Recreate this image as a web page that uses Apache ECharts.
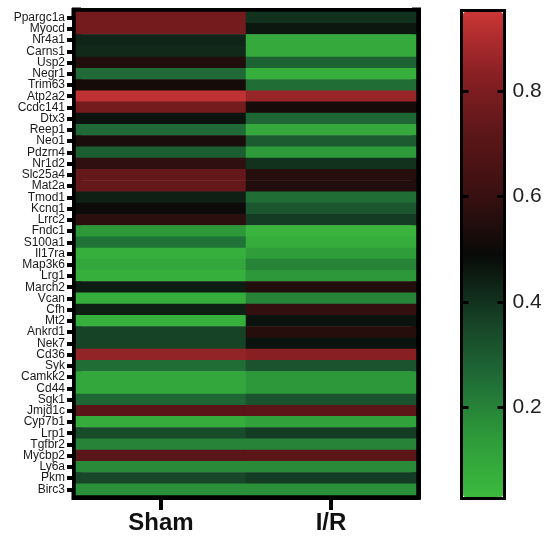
<!DOCTYPE html>
<html>
<head>
<meta charset="utf-8">
<script src="https://cdn.jsdelivr.net/npm/echarts@6/dist/echarts.min.js"></script>
<style>html,body{margin:0;padding:0;background:#fff}#chart{width:555px;height:541px}</style>
</head>
<body>
<div id="chart"></div>
<script>
const genes = ['Ppargc1a','Myocd','Nr4a1','Carns1','Usp2','Negr1','Trim63','Atp2a2','Ccdc141','Dtx3','Reep1','Neo1','Pdzrn4','Nr1d2','Slc25a4','Mat2a','Tmod1','Kcnq1','Lrrc2','Fndc1','S100a1','Il17ra','Map3k6','Lrg1','March2','Vcan','Cfh','Mt2','Ankrd1','Nek7','Cd36','Syk','Camkk2','Cd44','Sgk1','Jmjd1c','Cyp7b1','Lrp1','Tgfbr2','Mycbp2','Ly6a','Pkm','Birc3'];
const groups = ['Sham','I/R'];
const shamValues = [0.78,0.78,0.43,0.42,0.55,0.26,0.52,0.93,0.78,0.47,0.26,0.53,0.29,0.58,0.74,0.74,0.44,0.50,0.57,0.15,0.24,0.07,0.10,0.07,0.45,0.08,0.44,0.07,0.36,0.36,0.85,0.25,0.10,0.10,0.27,0.71,0.08,0.34,0.20,0.71,0.18,0.35,0.17];
const irValues = [0.40,0.46,0.09,0.09,0.28,0.07,0.25,0.86,0.52,0.27,0.09,0.30,0.14,0.40,0.56,0.55,0.25,0.31,0.38,0.05,0.08,0.13,0.20,0.15,0.55,0.20,0.59,0.47,0.56,0.47,0.83,0.32,0.15,0.15,0.32,0.72,0.12,0.38,0.20,0.72,0.18,0.38,0.17];
const colorbarTicks = [0.2, 0.4, 0.6, 0.8];
const scaleMin = 0.03, scaleMax = 0.95;
const scaleColors = ['#3dba3d','#2d9a3a','#1f6a36','#153d24','#080a08','#3a1011','#5c1618','#8a2024','#ca3636'];

const data = [];
genes.forEach((g, i) => {
  data.push([0, i, shamValues[i]]);
  data.push([1, i, irValues[i]]);
});

// colorbar geometry
const barTop = 12, barH = 485, barLeft = 463, barW = 40;
const k = (scaleMax - scaleMin) / barH;

const chart = echarts.init(document.getElementById('chart'), null, {renderer: 'canvas'});
const border = {show: true, lineStyle: {color: '#000', width: 9, cap: 'square'}};
const cbLine = {show: true, lineStyle: {color: '#000', width: 3, cap: 'square'}};
chart.setOption({
  backgroundColor: '#fff',
  animation: false,
  grid: [
    {left: 76, top: 12, width: 340, height: 483},
    {left: barLeft - 1.5, top: barTop - 1.5, width: barW + 3, height: barH + 3}
  ],
  xAxis: [
    {type: 'category', gridIndex: 0, data: groups, position: 'bottom',
     axisLine: border,
     axisTick: {show: true, alignWithLabel: true, length: 15, lineStyle: {color: '#000', width: 4}},
     axisLabel: {color: '#111', fontSize: 24, fontWeight: 'bold', fontFamily: 'Liberation Sans, Arial, sans-serif', margin: 16},
     splitLine: {show: false}},
    {type: 'category', gridIndex: 0, data: groups, position: 'top',
     axisLine: border, axisTick: {show: false}, axisLabel: {show: false}},
    {type: 'category', gridIndex: 1, data: [''], position: 'bottom', z: 5,
     axisLine: cbLine, axisTick: {show: false}, axisLabel: {show: false}},
    {type: 'category', gridIndex: 1, data: [''], position: 'top', z: 5,
     axisLine: cbLine, axisTick: {show: false}, axisLabel: {show: false}}
  ],
  yAxis: [
    {type: 'category', gridIndex: 0, data: genes, inverse: true, position: 'left',
     axisLine: border,
     axisTick: {show: true, alignWithLabel: true, length: 9, lineStyle: {color: '#000', width: 4}},
     axisLabel: {interval: 0, color: '#1a1a1a', fontSize: 12, fontFamily: 'Liberation Sans, Arial, sans-serif', margin: 11},
     splitLine: {show: false}},
    {type: 'category', gridIndex: 0, data: genes, inverse: true, position: 'right',
     axisLine: border, axisTick: {show: false}, axisLabel: {show: false}},
    {type: 'value', gridIndex: 1, position: 'left', z: 5,
     min: scaleMin - 1.5 * k, max: scaleMax + 1.5 * k,
     axisLine: cbLine,
     axisTick: {show: true, inside: true, length: 7, customValues: colorbarTicks, lineStyle: {color: '#000', width: 3}},
     axisLabel: {show: false}, splitLine: {show: false}},
    {type: 'value', gridIndex: 1, position: 'right', z: 5,
     min: scaleMin - 1.5 * k, max: scaleMax + 1.5 * k,
     axisLine: cbLine,
     axisTick: {show: true, inside: true, length: 7, customValues: colorbarTicks, lineStyle: {color: '#000', width: 3}},
     axisLabel: {show: true, customValues: colorbarTicks, color: '#222', fontSize: 21, fontFamily: 'Liberation Sans, Arial, sans-serif', margin: 8,
       formatter: v => v.toFixed(1)},
     splitLine: {show: false}}
  ],
  visualMap: {
    type: 'continuous', min: scaleMin, max: scaleMax, seriesIndex: 0,
    orient: 'vertical', left: barLeft, top: barTop, itemWidth: barW, itemHeight: barH,
    padding: 0, calculable: false, realtime: false, hoverLink: false,
    text: null, showLabel: false,
    inRange: {color: scaleColors}
  },
  series: [{
    type: 'heatmap', xAxisIndex: 0, yAxisIndex: 0, data: data,
    itemStyle: {borderWidth: 0}, emphasis: {disabled: true}
  }]
});
</script>
</body>
</html>
